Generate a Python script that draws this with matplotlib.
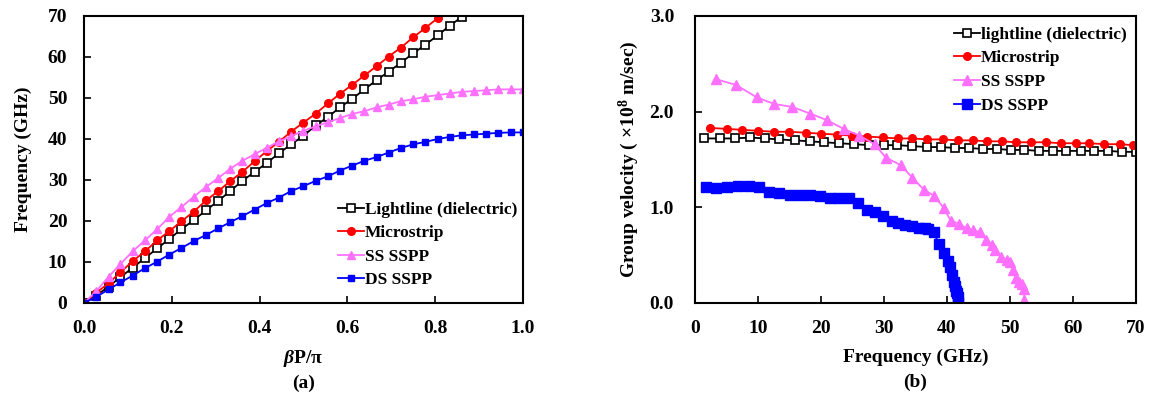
import matplotlib.pyplot as plt

plt.rcParams['font.family'] = ['Liberation Serif', 'DejaVu Serif']
plt.rcParams['font.weight'] = 'bold'
plt.rcParams['mathtext.fontset'] = 'custom'
plt.rcParams['mathtext.rm'] = 'Liberation Serif:bold'
plt.rcParams['mathtext.bf'] = 'Liberation Serif:bold'
plt.rcParams['mathtext.bfit'] = 'Liberation Serif:italic:bold'
plt.rcParams['mathtext.it'] = 'Liberation Serif:italic:bold'

# (a) dispersion curves
bp = [0.000, 0.028, 0.056, 0.083, 0.111, 0.139, 0.167, 0.194, 0.222, 0.250,
      0.278, 0.306, 0.333, 0.361, 0.389, 0.417, 0.444, 0.472, 0.500, 0.528,
      0.556, 0.583, 0.611, 0.639, 0.667, 0.694, 0.722, 0.750, 0.778, 0.806,
      0.833, 0.861, 0.889, 0.917, 0.944, 0.972, 1.000]

light_a = [0, 1.8, 4.0, 6.3, 8.6, 11.0, 13.3, 15.6, 18.0, 20.2,
           22.6, 24.9, 27.3, 29.8, 32.0, 34.2, 36.5, 38.7, 40.8, 43.3,
           45.4, 47.7, 49.8, 52.1, 54.4, 56.4, 58.6, 60.9, 63.0, 65.3,
           67.6, 69.8]
micro_a = [0, 2.5, 4.8, 7.5, 10.2, 12.6, 15.3, 17.5, 19.9, 22.3,
           25.0, 27.3, 29.7, 32.0, 34.6, 37.1, 39.3, 41.8, 44.0, 46.2,
           48.7, 51.0, 53.2, 55.5, 57.8, 60.1, 62.3, 64.8, 67.1, 69.5]
ss_a = [0, 2.9, 6.4, 9.5, 12.6, 15.3, 18.0, 21.0, 23.4, 25.9,
        28.3, 30.5, 32.7, 34.7, 36.3, 37.9, 39.4, 40.7, 42.0, 43.1,
        44.1, 45.1, 46.1, 46.8, 47.7, 48.4, 49.2, 49.7, 50.3, 50.7,
        51.1, 51.5, 51.7, 51.9, 52.1, 52.1, 52.1]
ds_a = [0, 1.5, 3.3, 5.0, 6.7, 8.5, 10.1, 11.8, 13.4, 15.1,
        16.6, 18.2, 19.7, 21.2, 22.8, 24.4, 25.7, 27.3, 28.5, 29.8,
        30.9, 32.3, 33.5, 34.7, 35.6, 36.7, 37.8, 38.7, 39.3, 40.0,
        40.5, 40.9, 41.1, 41.3, 41.5, 41.6, 41.6]

# (b) group velocity
light_f = [1.5, 3.9, 6.3, 8.7, 11.1, 13.4, 15.8, 18.2, 20.5, 22.9,
           25.3, 27.6, 30.0, 32.1, 34.5, 36.8, 39.1, 41.3, 43.5, 45.7,
           47.9, 50.1, 52.3, 54.6, 56.8, 58.9, 61.2, 63.4, 65.6, 67.8, 70.0]
light_v = [1.72, 1.72, 1.72, 1.73, 1.72, 1.71, 1.70, 1.69, 1.68, 1.67,
           1.66, 1.65, 1.65, 1.65, 1.64, 1.63, 1.63, 1.62, 1.62, 1.61,
           1.61, 1.60, 1.60, 1.59, 1.59, 1.59, 1.59, 1.59, 1.59, 1.58, 1.58]
micro_f = [2.4, 5.1, 7.5, 10.0, 12.5, 15.0, 17.6, 20.0, 22.6, 24.9,
           27.3, 29.8, 32.2, 34.5, 36.9, 39.4, 41.7, 44.1, 46.4, 48.7,
           51.0, 53.4, 55.7, 58.1, 60.5, 62.6, 65.0, 67.4, 69.5]
micro_v = [1.83, 1.82, 1.81, 1.80, 1.79, 1.79, 1.78, 1.77, 1.76, 1.75,
           1.74, 1.73, 1.72, 1.72, 1.71, 1.71, 1.70, 1.70, 1.69, 1.69,
           1.68, 1.68, 1.68, 1.67, 1.67, 1.67, 1.66, 1.66, 1.65]
ss_f = [3.3, 6.5, 9.8, 12.6, 15.4, 18.3, 21.0, 23.6, 26.1, 28.5,
        30.3, 32.7, 34.5, 36.4, 38.0, 39.5, 40.6, 41.9, 43.1, 44.1,
        45.2, 46.2, 47.2, 47.7, 48.6, 49.5, 50.0, 50.5, 50.9, 51.4,
        51.9, 52.2, 52.3]
ss_v = [2.34, 2.28, 2.15, 2.08, 2.05, 1.98, 1.91, 1.82, 1.75, 1.66,
        1.52, 1.44, 1.31, 1.18, 1.12, 0.99, 0.86, 0.83, 0.78, 0.76,
        0.74, 0.66, 0.61, 0.55, 0.48, 0.45, 0.43, 0.35, 0.26, 0.22,
        0.20, 0.15, 0.03]
ds_f = [1.8, 3.4, 5.1, 6.8, 8.6, 10.2, 11.8, 13.4, 15.1, 16.7,
        18.3, 19.8, 21.4, 22.9, 24.5, 25.9, 27.3, 28.6, 29.9, 31.2,
        32.3, 33.4, 34.4, 35.5, 36.5, 37.0, 37.9, 38.7, 39.6, 40.1,
        40.5, 40.8, 41.1, 41.3, 41.5, 41.6, 41.7, 41.75]
ds_v = [1.215, 1.20, 1.215, 1.225, 1.225, 1.21, 1.165, 1.145, 1.13, 1.13,
        1.13, 1.12, 1.10, 1.10, 1.095, 1.05, 0.97, 0.95, 0.91, 0.86,
        0.84, 0.82, 0.80, 0.785, 0.78, 0.775, 0.74, 0.62, 0.52, 0.44,
        0.38, 0.29, 0.22, 0.18, 0.13, 0.10, 0.06, 0.01]

fig = plt.figure(figsize=(11.6, 4.01), dpi=100)
ax1 = fig.add_axes([0.0724, 0.2444, 0.3784, 0.7157])
ax2 = fig.add_axes([0.5991, 0.2444, 0.3802, 0.7157])

lw = 1.3
ax1.plot(bp[:len(light_a)], light_a, color='black', marker='s', mfc='white',
         mec='black', ms=6, mew=1.2, lw=lw, label='Lightline (dielectric)')
ax1.plot(bp[:len(micro_a)], micro_a, color='red', marker='o', ms=5.5, lw=lw,
         label='Microstrip')
ax1.plot(bp, ss_a, color='#FF70FF', marker='^', ms=5.5, lw=lw, label='SS SSPP')
ax1.plot(bp, ds_a, color='blue', marker='s', ms=5, lw=lw, label='DS SSPP')

ax2.plot(light_f, light_v, color='black', marker='s', mfc='white',
         mec='black', ms=6, mew=1.2, lw=lw, label='lightline (dielectric)')
ax2.plot(micro_f, micro_v, color='red', marker='o', ms=5.5, lw=lw,
         label='Microstrip')
ax2.plot(ss_f, ss_v, color='#FF70FF', marker='^', ms=7, lw=lw, label='SS SSPP')
ax2.plot(ds_f, ds_v, color='blue', marker='s', ms=6.5, lw=lw, label='DS SSPP')

ax1.set_xlim(0, 1.0)
ax1.set_ylim(0, 70)
ax1.set_xticks([0, 0.2, 0.4, 0.6, 0.8, 1.0])
ax1.set_xticklabels(['0.0', '0.2', '0.4', '0.6', '0.8', '1.0'])
ax1.set_yticks(range(0, 71, 10))
ax1.set_xlabel(r'$\mathbfit{\beta}$P/π', fontsize=14, fontweight='bold', labelpad=8)
ax1.set_ylabel('Frequency (GHz)', fontsize=14, fontweight='bold', labelpad=11)

ax2.set_xlim(0, 70)
ax2.set_ylim(0, 3.0)
ax2.set_xticks(range(0, 71, 10))
ax2.set_yticks([0, 1.0, 2.0, 3.0])
ax2.set_yticklabels(['0.0', '1.0', '2.0', '3.0'])
ax2.set_xlabel('Frequency (GHz)', fontsize=14, fontweight='bold', labelpad=9)
ax2.set_ylabel(r'Group velocity ( ×10$^{8}$ m/sec)', fontsize=14,
               fontweight='bold', labelpad=6)

for ax in (ax1, ax2):
    ax.tick_params(direction='in', length=5, width=1.2, labelsize=14,
                   top=False, right=False)
    ax.tick_params(axis='x', pad=12)
    for s in ax.spines.values():
        s.set_linewidth(1.5)
    for t in ax.get_xticklabels() + ax.get_yticklabels():
        t.set_fontweight('bold')
ax1.tick_params(axis='y', pad=12)
ax2.tick_params(axis='y', pad=15)

ax1.legend(loc='upper left', bbox_to_anchor=(0.2853, 0.515),
           bbox_transform=fig.transFigure, borderaxespad=0, frameon=False,
           fontsize=12.5, handlelength=1.5, handletextpad=0.05,
           labelspacing=0.43)
ax2.legend(loc='upper left', bbox_to_anchor=(0.8164, 0.951),
           bbox_transform=fig.transFigure, borderaxespad=0, frameon=False,
           fontsize=12.5, handlelength=1.5, handletextpad=0.05,
           labelspacing=0.43)

fig.text(0.2616, 0.045, '(a)', ha='center', va='center', fontsize=14,
         fontweight='bold')
fig.text(0.789, 0.047, '(b)', ha='center', va='center', fontsize=14,
         fontweight='bold')

fig.savefig('out.png', dpi=100)
